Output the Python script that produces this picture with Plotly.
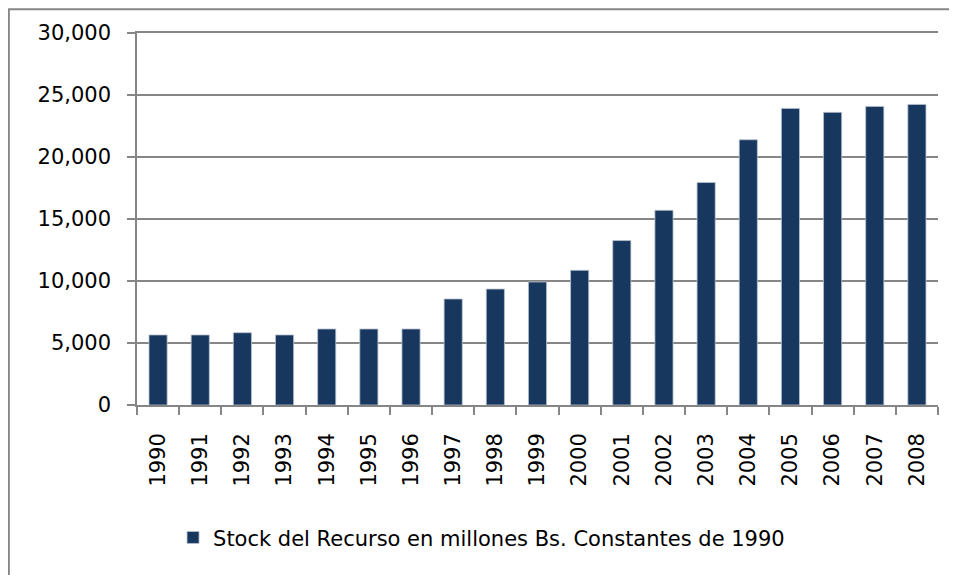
import plotly.graph_objects as go

# Datos
anios = ["1990", "1991", "1992", "1993", "1994", "1995", "1996", "1997", "1998", "1999",
         "2000", "2001", "2002", "2003", "2004", "2005", "2006", "2007", "2008"]
stock = [5650, 5650, 5830, 5650, 6130, 6130, 6130, 8550, 9350, 9920,
         10860, 13260, 15700, 17940, 21390, 23920, 23600, 24080, 24240]
serie_nombre = "Stock del Recurso en millones Bs. Constantes de 1990"
y_ticks = [0, 5000, 10000, 15000, 20000, 25000, 30000]

gris = "#868686"
fuente = "DejaVu Sans"

fig = go.Figure()
fig.add_trace(go.Bar(
    x=anios,
    y=stock,
    name=serie_nombre,
    width=0.43,
    marker=dict(color="#17375E", line=dict(color="#b8c2cf", width=0.8)),
    showlegend=True,
))

# la pagina tiene 8px de margen, por eso 949x567
fig.update_layout(
    width=949,
    height=567,
    margin=dict(l=129, r=19, t=25, b=170),
    paper_bgcolor="white",
    plot_bgcolor="white",
    font=dict(family=fuente, size=21, color="#000000"),
    showlegend=True,
    legend=dict(
        orientation="h",
        x=0.045, xanchor="left",
        y=-0.357, yanchor="middle",
        font=dict(family=fuente, size=21, color="#000000"),
        itemwidth=30,
    ),
)

fig.update_xaxes(
    type="category",
    tickangle=-90,
    showline=True, mirror=True, linecolor=gris, linewidth=1.5,
    ticks="outside", tickson="boundaries", ticklen=8, tickcolor=gris, tickwidth=1.5,
    showgrid=False,
    ticklabelstandoff=18,
)

fig.update_yaxes(
    range=[0, 30000],
    tickvals=y_ticks,
    tickformat=",",
    showline=True, linecolor=gris, linewidth=1.5,
    ticks="outside", ticklen=8, tickcolor=gris, tickwidth=1.5,
    showgrid=True, gridcolor=gris, gridwidth=1.5,
    zeroline=False,
    ticklabelstandoff=12,
)

# Borde del area del grafico (recortado a la derecha y abajo)
fig.add_shape(
    type="rect", xref="paper", yref="paper",
    x0=-0.16, x1=1.05, y0=-0.5, y1=1.064,
    line=dict(color=gris, width=2),
    fillcolor="rgba(0,0,0,0)",
    layer="below",
)

fig.write_html("out.html")
